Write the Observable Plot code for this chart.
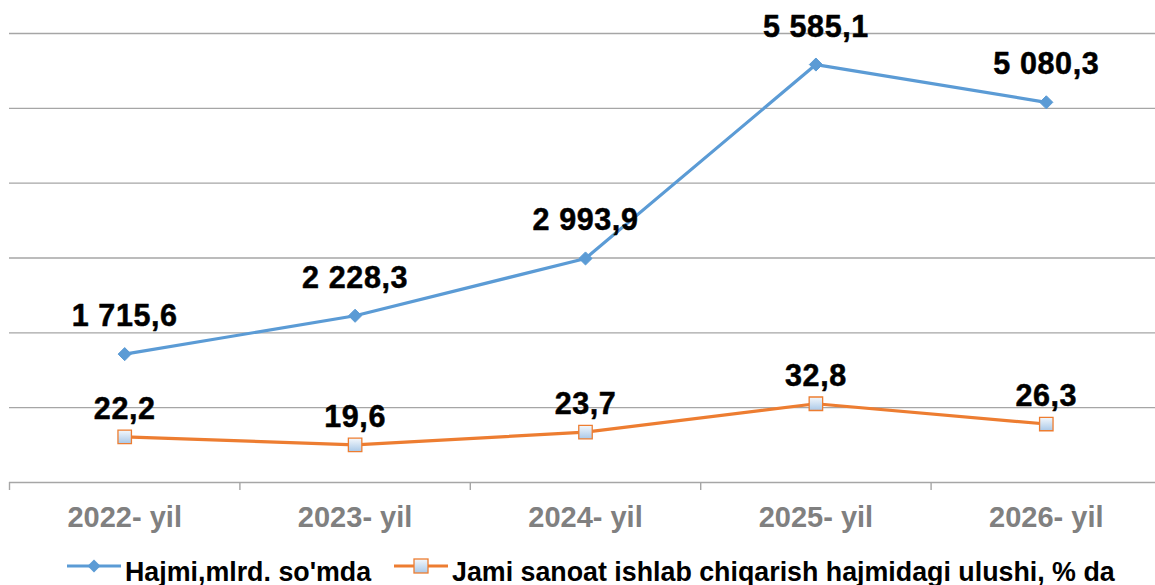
<!DOCTYPE html>
<html>
<head>
<meta charset="utf-8">
<script src="https://cdn.jsdelivr.net/npm/d3@7"></script>
<script src="https://cdn.jsdelivr.net/npm/@observablehq/plot@0.6"></script>
<style>
  html, body { margin: 0; padding: 0; background: #fff; overflow: hidden; }
  body { width: 1155px; height: 585px; font-family: "Liberation Sans", Arial, sans-serif; }
  #legend { position: relative; height: 40px; font-weight: bold; font-size: 26.8px; color: #000; }
  #legend .item { position: absolute; top: 0; display: flex; align-items: center; height: 40px; white-space: nowrap; }
  #legend svg { display: block; }
  #chart g[aria-label="text"] text { letter-spacing: 0.6px; }
</style>
</head>
<body>
<div id="chart"></div>
<div id="legend"></div>
<script>
// ---- data ----
const years = ["2022- yil", "2023- yil", "2024- yil", "2025- yil", "2026- yil"];
const volume = [1715.6, 2228.3, 2993.9, 5585.1, 5080.3];      // Hajmi, mlrd. so'mda
const share = [22.2, 19.6, 23.7, 32.8, 26.3];                  // ulushi, % da
const seriesNames = ["Hajmi,mlrd. so'mda", "Jami sanoat ishlab chiqarish hajmidagi ulushi, % da"];
const yTicks = [1000, 2000, 3000, 4000, 5000, 6000];
const yDomain = [0, 6000];
const shareAxis = [7.56, 151.45]; // secondary (hidden) axis extent matching primary [0, 6000]

const blue = "#5B9BD5", orange = "#ED7D31";
const fmt = d3.formatLocale({decimal: ",", thousands: " ", grouping: [3]}).format(",.1f");

const toPrimary = v => (v - shareAxis[0]) / (shareAxis[1] - shareAxis[0]) * (yDomain[1] - yDomain[0]) + yDomain[0];

const vData = volume.map((v, i) => ({i, v, y: v}));
const sData = share.map((v, i) => ({i, v, y: toPrimary(v)}));

const defs = () => {
  const ns = "http://www.w3.org/2000/svg";
  const d = document.createElementNS(ns, "defs");
  d.innerHTML = `<linearGradient id="sqgrad" x1="0" y1="0" x2="0" y2="1">
      <stop offset="0" stop-color="#f4f8fc"/><stop offset="1" stop-color="#a9c8e8"/></linearGradient>`;
  return d;
};

const boundaries = d3.range(-0.5, years.length, 1);

const chart = Plot.plot({
  width: 1155,
  height: 545,
  marginTop: 33,
  marginBottom: 63,
  marginLeft: 9,
  marginRight: 0,
  style: {fontFamily: '"Liberation Sans", Arial, sans-serif', background: "#fff"},
  x: {type: "linear", domain: [-0.5, years.length - 0.5], range: [9, 1161], label: null},
  y: {domain: yDomain, axis: null, label: null},
  marks: [
    defs,
    Plot.ruleY(yTicks, {x1: -0.5, x2: 4.475, stroke: "#a6a6a6", strokeWidth: 1.4}),
    Plot.ruleY([0], {x1: -0.5, x2: 4.475, stroke: "#a6a6a6", strokeWidth: 1.4}),
    Plot.axisX({ticks: boundaries, tickSize: 8, tickFormat: () => "", label: null, stroke: "#a6a6a6", strokeWidth: 1.4}),
    Plot.axisX({ticks: d3.range(years.length), tickSize: 0, tickPadding: 24, tickFormat: i => years[i], label: null,
      fontSize: 29, fontWeight: "bold", fill: "#808080"}),
    Plot.line(vData, {x: "i", y: "y", stroke: blue, strokeWidth: 3.2}),
    Plot.dot(vData, {x: "i", y: "y", symbol: "diamond2", r: 5.9, fill: blue, stroke: blue, strokeWidth: 1}),
    Plot.line(sData, {x: "i", y: "y", stroke: orange, strokeWidth: 3.2}),
    Plot.dot(sData, {x: "i", y: "y", symbol: "square", r: 7.6, fill: "url(#sqgrad)", stroke: orange, strokeWidth: 1.3}),
    Plot.text(vData, {x: "i", y: "y", text: d => fmt(d.v), dy: -28, lineAnchor: "bottom",
      fontSize: 30.5, fontWeight: "bold", fill: "#000", stroke: "#000", strokeWidth: 0.5}),
    Plot.text(sData, {x: "i", y: "y", text: d => d3.format(".1f")(d.v).replace(".", ","), dy: -18, lineAnchor: "bottom",
      fontSize: 30.5, fontWeight: "bold", fill: "#000", stroke: "#000", strokeWidth: 0.5})
  ]
});
document.getElementById("chart").appendChild(chart);

// ---- legend ----
const legend = document.getElementById("legend");
const items = [
  {name: seriesNames[0], color: blue, kind: "diamond", left: 67},
  {name: seriesNames[1], color: orange, kind: "square", left: 394}
];
for (const it of items) {
  const div = document.createElement("div");
  div.className = "item";
  div.style.left = it.left + "px";
  const marker = it.kind === "diamond"
    ? `<path d="M27,14.5 L33.5,21 L27,27.5 L20.5,21 Z" fill="${it.color}"/>`
    : `<rect x="20" y="14" width="14" height="14" fill="url(#lgrad)" stroke="${it.color}" stroke-width="1.3"/>`;
  div.innerHTML = `<svg width="58" height="40">
      <defs><linearGradient id="lgrad" x1="0" y1="0" x2="0" y2="1"><stop offset="0" stop-color="#f4f8fc"/><stop offset="1" stop-color="#a9c8e8"/></linearGradient></defs>
      <line x1="0" x2="54" y1="21" y2="21" stroke="${it.color}" stroke-width="3.2"/>${marker}</svg>
      <span style="position:relative; top:7px">${it.name}</span>`;
  legend.appendChild(div);
}
</script>
</body>
</html>
